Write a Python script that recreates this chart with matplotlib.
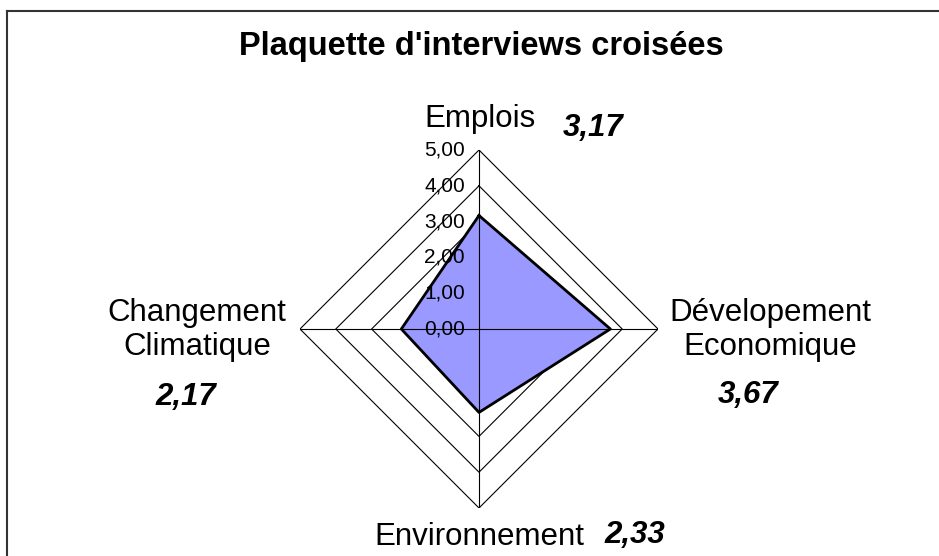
import numpy as np
import matplotlib
matplotlib.use("Agg")
import matplotlib.pyplot as plt

plt.rcParams['font.family'] = ['Liberation Sans', 'DejaVu Sans']

title = "Plaquette d'interviews croisées"
categories = ["Emplois", "Dévelopement\nEconomique", "Environnement", "Changement\nClimatique"]
values = [3.17, 3.67, 2.33, 2.17]
value_labels = ["3,17", "3,67", "2,33", "2,17"]
rings = [1, 2, 3, 4, 5]
ring_labels = ["0,00", "1,00", "2,00", "3,00", "4,00", "5,00"]
rmax = 5

W, H = 939, 556
fig = plt.figure(figsize=(W / 100, H / 100), dpi=100)

# background axes in pixel coordinates for frame and texts
bg = fig.add_axes([0, 0, 1, 1])
bg.set_xlim(0, W)
bg.set_ylim(H, 0)
bg.axis('off')
bg.plot([6.5, 6.5], [H + 5, 10.5], color='#333333', lw=1.5)
bg.plot([6.5, W + 5], [10.5, 10.5], color='#333333', lw=1.5)

cx, cy, R = 479, 329, 179
ax = fig.add_axes([(cx - R) / W, (H - cy - R) / H, 2 * R / W, 2 * R / H],
                  projection='polar')
ax.set_theta_zero_location('N')
ax.set_theta_direction(-1)
ax.set_ylim(0, rmax)
ax.axis('off')

n = len(categories)
theta = np.arange(n) * 2 * np.pi / n
theta_c = np.append(theta, theta[0])

for r in rings:
    ax.plot(theta_c, [r] * (n + 1), color='black', lw=0.8, zorder=1)

vals_c = values + values[:1]
ax.fill(theta_c, vals_c, color='#9999FF', zorder=2)
ax.plot(theta_c, vals_c, color='black', lw=2.0, zorder=3)

for t in theta:
    ax.plot([t, t], [0, rmax], color='black', lw=0.8, zorder=4)

for i, lab in enumerate(ring_labels):
    ax.annotate(lab, xy=(0, i), xytext=(-14, 0), textcoords='offset pixels',
                ha='right', va='center', fontsize=15, zorder=5)

# category labels
cat_pos = [(480, 119), (770, 330), (479, 537), (197, 330)]
for (x, y), lab in zip(cat_pos, categories):
    bg.text(x, y, lab, ha='center', va='center', fontsize=22.5,
            linespacing=1.16)

val_pos = [(593, 128), (748, 395), (635, 535), (186, 397)]
for (x, y), lab in zip(val_pos, value_labels):
    bg.text(x, y, lab, ha='center', va='center', fontsize=22.5,
            fontweight='bold', fontstyle='italic')

bg.text(481, 47, title, ha='center', va='center', fontsize=23.5,
        fontweight='bold')

fig.savefig('out.png', dpi=100)
